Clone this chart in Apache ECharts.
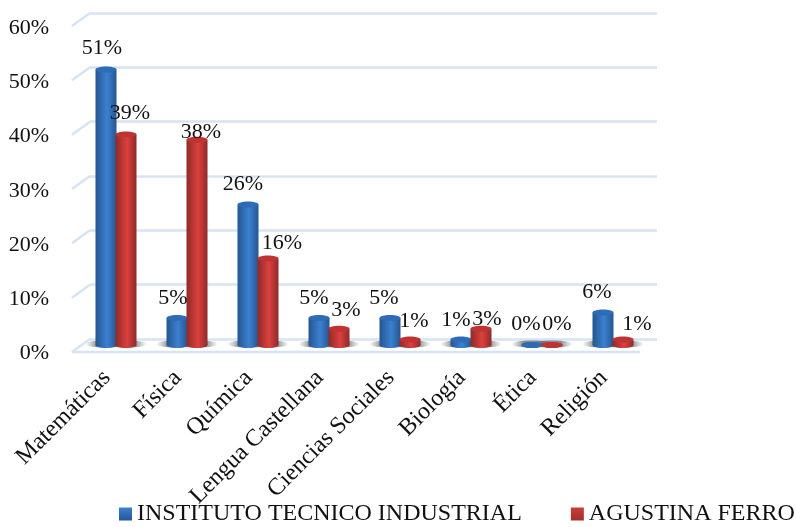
<!DOCTYPE html>
<html>
<head>
<meta charset="utf-8">
<script src="https://cdn.jsdelivr.net/npm/echarts@6/dist/echarts.min.js"></script>
<style>
html, body { margin: 0; padding: 0; background: #fff; }
#chart { width: 796px; height: 527px; filter: blur(0.4px); }
</style>
</head>
<body>
<div id="chart"></div>
<script>
const categories = ["Matemáticas", "Física", "Química", "Lengua Castellana", "Ciencias Sociales", "Biología", "Ética", "Religión"];
const institutoValues = [51, 5, 26, 5, 5, 1, 0, 6];
const agustinaValues = [39, 38, 16, 3, 1, 3, 0, 1];
const yTicks = [0, 10, 20, 30, 40, 50, 60];
const seriesNames = ["INSTITUTO TECNICO INDUSTRIAL", "AGUSTINA FERRO"];

// desplazamiento manual de cada etiqueta respecto a la tapa de su barra
const institutoLabelDx = [-4, -4, -5, -5, -6, -5, -6, -6];
const institutoLabelDy = [-21.5, -20, -20, -20, -20, -19, -21, -20];
const agustinaLabelDx = [4, 4, 14, 7, 4, 6, 5, 14];
const agustinaLabelDy = [-21, -8, -15.5, -19, -18, -10, -21, -15];

const font = '"Liberation Serif", "Times New Roman", serif';
const wallColor = "#d6e3f3";

function gradient(left, mid, right) {
  return new echarts.graphic.LinearGradient(0, 0, 1, 0, [
    { offset: 0, color: left },
    { offset: 0.55, color: mid },
    { offset: 1, color: right }
  ]);
}

function legendFill(top, bottom) {
  return new echarts.graphic.LinearGradient(0, 0, 0, 1, [
    { offset: 0, color: top },
    { offset: 1, color: bottom }
  ]);
}

// cilindro: sombra, cuerpo, base y tapa, mas la etiqueta
function cylinder(shift, colors, labelDx, labelDy) {
  return function (params, api) {
    const i = api.value(0);
    const v = api.value(1);
    const top = api.coord([i, v]);
    const base = api.coord([i, 0]);
    const cx = top[0] + shift;
    const w = 21;
    const ry = 3;
    return {
      type: "group",
      children: [
        {
          type: "ellipse",
          shape: { cx: cx, cy: base[1] - 1, rx: 21, ry: 3.5 },
          z2: -1,
          style: {
            fill: new echarts.graphic.LinearGradient(0, 0, 1, 0, [
              { offset: 0, color: "rgba(120,120,120,0)" },
              { offset: 0.3, color: "rgba(90,90,90,0.7)" },
              { offset: 0.7, color: "rgba(90,90,90,0.7)" },
              { offset: 1, color: "rgba(120,120,120,0)" }
            ])
          }
        },
        {
          type: "ellipse",
          shape: { cx: cx, cy: base[1], rx: w / 2, ry: ry },
          style: { fill: gradient(colors[0], colors[1], colors[2]) }
        },
        {
          type: "rect",
          shape: { x: cx - w / 2, y: top[1], width: w, height: base[1] - top[1] },
          style: { fill: gradient(colors[0], colors[1], colors[2]) }
        },
        {
          type: "ellipse",
          shape: { cx: cx, cy: top[1], rx: w / 2, ry: ry },
          style: { fill: colors[3] }
        },
        {
          type: "text",
          z2: 100,
          style: {
            x: cx + labelDx[i],
            y: top[1] + labelDy[i],
            text: v + "%",
            fill: "#111",
            font: "22px " + font,
            align: "center",
            verticalAlign: "middle"
          }
        }
      ]
    };
  };
}

// diagonales de la pared lateral y borde frontal del piso
function wallEdges(params, api) {
  const edges = yTicks.map(t => {
    const p = api.coord([0, t]);
    return {
      type: "line",
      shape: { x1: p[0], y1: p[1], x2: p[0] - 18, y2: p[1] + 13 },
      style: { stroke: wallColor, lineWidth: 2.5 }
    };
  });
  const floorLeft = api.coord([0, 0]);
  const floorRight = api.coord([1, 0]);
  edges.push({
    type: "line",
    shape: { x1: floorLeft[0] - 18, y1: floorLeft[1] + 13, x2: floorRight[0] - 17, y2: floorRight[1] + 13 },
    style: { stroke: wallColor, lineWidth: 2.5 }
  });
  return { type: "group", children: edges };
}

const chart = echarts.init(document.getElementById("chart"));
chart.setOption({
  animation: false,
  backgroundColor: "#fff",
  textStyle: { fontFamily: font },
  legend: {
    left: 119,
    top: 502,
    width: 677,
    padding: 0,
    itemWidth: 13,
    itemHeight: 13,
    itemGap: 49,
    icon: "rect",
    textStyle: { fontFamily: font, fontSize: 24, color: "#111" },
    data: [
      { name: seriesNames[0], itemStyle: { color: legendFill("#3f80cf", "#24569a") } },
      { name: seriesNames[1], itemStyle: { color: legendFill("#c93f3c", "#a32e2c") } }
    ]
  },
  grid: [
    // pared del fondo
    { left: 90, right: 139, top: 13, bottom: 188 },
    // plano frontal, solo para las etiquetas del eje
    { left: 72, right: 157, top: 28, bottom: 173.5 },
    // plano de las barras
    { left: 80.5, right: 147.5, top: 21, bottom: 182 }
  ],
  xAxis: [
    { gridIndex: 0, type: "value", min: 0, max: 1, show: false },
    { gridIndex: 1, type: "category", data: categories, show: false },
    {
      gridIndex: 2,
      type: "category",
      data: categories,
      axisLine: { show: false },
      axisTick: { show: false },
      axisLabel: {
        rotate: 45,
        interval: 0,
        margin: 20,
        padding: [0, 13, 0, 0],
        fontFamily: font,
        fontSize: 24,
        color: "#111"
      }
    }
  ],
  yAxis: [
    {
      gridIndex: 0,
      type: "value",
      min: 0,
      max: 60,
      interval: 10,
      axisLine: { show: false },
      axisTick: { show: false },
      axisLabel: { show: false },
      splitLine: { lineStyle: { color: wallColor, width: 2.5 } }
    },
    {
      gridIndex: 1,
      type: "value",
      min: 0,
      max: 60,
      interval: 10,
      axisLine: { show: false },
      axisTick: { show: false },
      splitLine: { show: false },
      axisLabel: {
        formatter: "{value}%",
        margin: 23,
        fontFamily: font,
        fontSize: 22,
        color: "#111"
      }
    },
    { gridIndex: 2, type: "value", min: 0, max: 60, interval: 10, show: false, splitLine: { show: false } }
  ],
  series: [
    {
      type: "custom",
      xAxisIndex: 0,
      yAxisIndex: 0,
      silent: true,
      renderItem: wallEdges,
      encode: { x: 0, y: 1 },
      data: [[0, 0]]
    },
    {
      name: seriesNames[0],
      type: "custom",
      xAxisIndex: 2,
      yAxisIndex: 2,
      itemStyle: { color: "#2f6cb5" },
      renderItem: cylinder(-10, ["#24568f", "#3c80d0", "#24568f", "#2f6cb5"], institutoLabelDx, institutoLabelDy),
      encode: { x: 0, y: 1 },
      data: institutoValues.map((v, i) => [i, v])
    },
    {
      name: seriesNames[1],
      type: "custom",
      xAxisIndex: 2,
      yAxisIndex: 2,
      itemStyle: { color: "#bf3432" },
      renderItem: cylinder(10, ["#8f2a2a", "#dc403d", "#8f2a2a", "#bf3432"], agustinaLabelDx, agustinaLabelDy),
      encode: { x: 0, y: 1 },
      data: agustinaValues.map((v, i) => [i, v])
    }
  ]
});
</script>
</body>
</html>
